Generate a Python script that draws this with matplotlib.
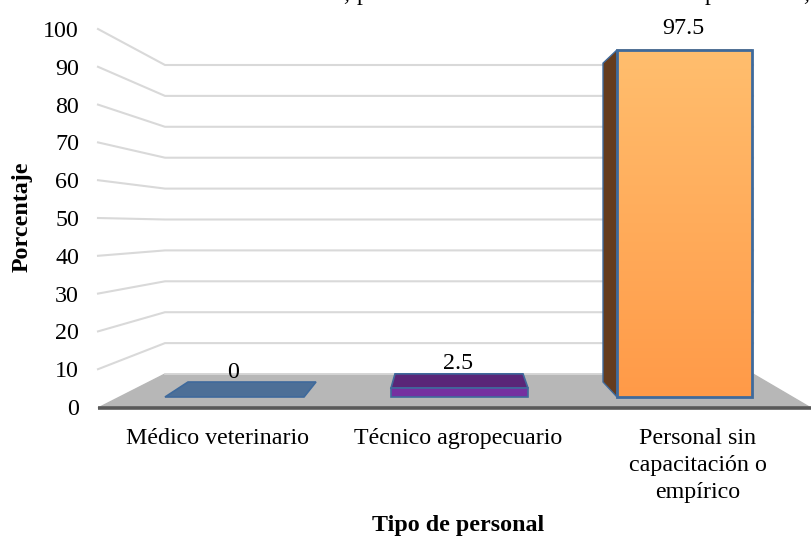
import numpy as np
import matplotlib
matplotlib.use('Agg')
import matplotlib.pyplot as plt
from matplotlib.patches import Polygon

plt.rcParams['font.family'] = ['Liberation Serif', 'DejaVu Serif']

categories = ['Médico veterinario', 'Técnico agropecuario', 'Personal sin\ncapacitación o\nempírico']
values = [0, 2.5, 97.5]
y_ticks = [0, 10, 20, 30, 40, 50, 60, 70, 80, 90, 100]
value_labels = ['0', '2.5', '97.5']
# only the descenders of the cropped title line are left in the picture
title_bits = [(343, ','), (356.5, 'p'), (705, 'p'), (803, ',')]

# faux 3d layout, everything in image pixels
front_x = 98
back_x = 165
wall_right = 753
front_y0, front_scale = 407, 3.78
back_y0, back_scale = 374, 3.09
bar_y0, bar_scale = 397, 3.56
bar_back_y0, bar_back_scale = 382, 3.27
bar_front = [(165, 304), (391, 528), (617, 752)]
bar_back = [(188, 316), (395, 523), (603, 738)]
top_cols = ['#4d6f97', '#5a2678', '#ffbe6e']
front_cols = ['#4d6f97', '#7530a0', '#ff9d4c']
edge = '#3f6a9c'
fs = 17.3

fig = plt.figure(figsize=(8.11, 5.38), dpi=100)
ax = fig.add_axes([0, 0, 1, 1])
ax.set_xlim(0, 811)
ax.set_ylim(538, 0)
ax.axis('off')

# floor
ax.fill([front_x, back_x, wall_right, 811], [408, back_y0, back_y0, 408], color='#b7b7b7', zorder=1)

# wall gridlines
for t in y_ticks:
	yf = front_y0 - t * front_scale
	yb = back_y0 - t * back_scale
	if t > 0:
		ax.plot([front_x, back_x, wall_right], [yf, yb, yb], color='#d9d9d9', lw=1.5, zorder=2, solid_joinstyle='miter')
	else:
		ax.plot([back_x, wall_right], [yb, yb], color='#d9d9d9', lw=1.2, zorder=2)
	ax.text(79, yf + 2.5, str(t), ha='right', va='center', fontsize=fs, color='black')

# front axis line
ax.plot([front_x, 811], [408, 408], color='#595959', lw=2.6, zorder=3, solid_capstyle='butt')

# bars
for i, v in enumerate(values):
	fl, fr = bar_front[i]
	bl, br = bar_back[i]
	ftop = bar_y0 - v * bar_scale
	btop = bar_back_y0 - v * bar_back_scale
	# left side shows only when the back edge sticks out
	if bl < fl:
		ax.add_patch(Polygon([(bl, btop), (fl, ftop), (fl, bar_y0), (bl, bar_back_y0)], fc='#653c1e', ec=edge, lw=1, zorder=4))
	# top face is seen from below on the tall bar, so it stays hidden there
	if 0 < v < 10:
		ax.add_patch(Polygon([(bl, btop), (br, btop), (fr, ftop), (fl, ftop)], fc=top_cols[i], ec=edge, lw=1.2, zorder=4))
	if v > 10:
		grad = np.linspace(0, 1, 256).reshape(-1, 1)
		cmap = matplotlib.colors.LinearSegmentedColormap.from_list('bar', ['#ffbe6e', '#ff9a48'])
		ax.imshow(grad, extent=(fl, fr, bar_y0, ftop), cmap=cmap, aspect='auto', zorder=5)
		ax.set_xlim(0, 811)
		ax.set_ylim(538, 0)
		ax.add_patch(Polygon([(fl, ftop), (fr, ftop), (fr, bar_y0), (fl, bar_y0)], fc='none', ec=edge, lw=2, zorder=6))
	elif v > 0:
		ax.add_patch(Polygon([(fl, ftop), (fr, ftop), (fr, bar_y0), (fl, bar_y0)], fc=front_cols[i], ec=edge, lw=1.2, zorder=5))
	else:
		ax.add_patch(Polygon([(bl, bar_back_y0), (br, bar_back_y0), (fr, bar_y0), (fl, bar_y0)], fc=front_cols[i], ec=edge, lw=1.2, zorder=4))
	lab_y = btop - 10 if v < 10 else ftop - 21
	ax.text((fl + fr) / 2 - 1, lab_y, value_labels[i], ha='center', va='center', fontsize=fs, color='black', zorder=7)

# category labels
label_x = [218, 458, 697.5]
for x, c in zip(label_x, categories):
	ax.text(x, 428, c, ha='center', va='top', fontsize=fs, linespacing=1.37, color='black')

ax.text(22, 217, 'Porcentaje', rotation=90, ha='center', va='center', fontsize=fs, fontweight='bold')
ax.text(458, 526, 'Tipo de personal', ha='center', va='center', fontsize=fs, fontweight='bold')

# kept on purpose: the reference crops this line at the top edge too
for x, s in title_bits:
	ax.text(x, 0, s, ha='left', va='baseline', fontsize=fs, color='black')

fig.savefig('out.png', dpi=100)
